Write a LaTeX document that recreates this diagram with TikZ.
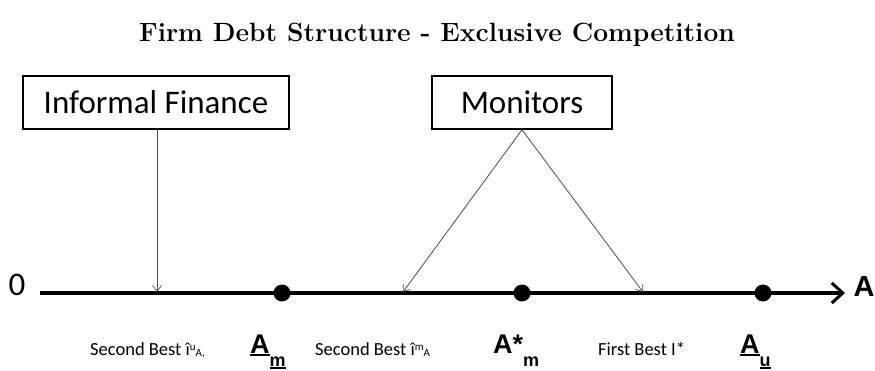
\documentclass[tikz,border=0pt]{standalone}
\usepackage{fontspec}
\usetikzlibrary{arrows.meta}
\newfontfamily\calfont{Carlito}
\newfontfamily\arialfont{Liberation Sans}
\newcommand\smallsup[1]{{\fontsize{11}{11}\selectfont\raisebox{0.8ex}{#1}}}
\newcommand\smallsub[1]{{\fontsize{11}{11}\selectfont\raisebox{-0.3ex}{#1}}}
\newcommand\bigsub[1]{{\fontsize{18}{18}\selectfont\raisebox{-13pt}{#1}}}
\newcommand\ubar[1]{\setbox0\hbox{#1}\rlap{\rule[-3.2pt]{\wd0}{2.2pt}}\box0}
\begin{document}
\begin{tikzpicture}[x=1pt,y=-1pt,
  titlestyle/.style={font=\fontsize{26.4}{30}\selectfont\bfseries, inner sep=0pt},
  boxstyle/.style={draw=black, line width=1.6pt, fill=white, inner sep=0pt,
    font=\calfont\fontsize{33}{35}\selectfont},
  axisline/.style={line width=3.6pt, -{Straight Barb[length=11pt,width=20pt,line width=3pt]}},
  conn/.style={draw=black!70, line width=0.8pt, -{Straight Barb[length=6pt,width=9pt,line width=0.7pt]}},
  dotstyle/.style={circle, fill=black, inner sep=0pt, minimum size=17pt},
  small/.style={font=\calfont\fontsize{18.5}{20}\selectfont, inner sep=0pt},
  biglab/.style={font=\arialfont\bfseries\fontsize{27}{30}\selectfont, inner sep=0pt},
  axislab/.style={font=\calfont\fontsize{33}{35}\selectfont, inner sep=0pt}]
\useasboundingbox (0,0) rectangle (875,371);
\node[titlestyle] (title) at (437,35) {Firm Debt Structure - Exclusive Competition};
\node[boxstyle, minimum width=266pt, minimum height=53pt] (inf) at (156,102.5) {Informal Finance};
\node[boxstyle, minimum width=180pt, minimum height=53pt] (mon) at (522,102.5) {Monitors};
\coordinate (ax0) at (40,293);
\coordinate (ax1) at (845,293);
\draw[axisline] (ax0) -- (ax1);
\node[axislab, anchor=base] (zero) at (17,295) {0};
\node[axislab, anchor=base, font=\arialfont\bfseries\fontsize{29}{30}\selectfont] (alab) at (864,297) {A};
\node[dotstyle] (d1) at (282,293) {};
\node[dotstyle] (d2) at (522,293) {};
\node[dotstyle] (d3) at (763,293) {};
\coordinate (t1) at (157,292);
\coordinate (t2) at (403,292);
\coordinate (t3) at (643,292);
\draw[conn] (inf.south -| t1) -- (t1);
\draw[conn] (mon.south) -- (t2);
\draw[conn] (mon.south) -- (t3);
\node[small, anchor=base west] (l1) at (90,355) {Second Best î\smallsup{u}\smallsub{A,}};
\node[biglab, anchor=base west] (l2) at (250,353) {\ubar{A}\bigsub{\ubar{m}}};
\node[small, anchor=base west] (l3) at (315,355) {Second Best î\smallsup{m}\smallsub{A}};
\node[biglab, anchor=base west] (l4) at (493,353) {A*\bigsub{m}};
\node[small, anchor=base west] (l5) at (598,355) {First Best I*};
\node[biglab, anchor=base west] (l6) at (740,353) {\ubar{A}\bigsub{\ubar{u}}};
\end{tikzpicture}
\end{document}
